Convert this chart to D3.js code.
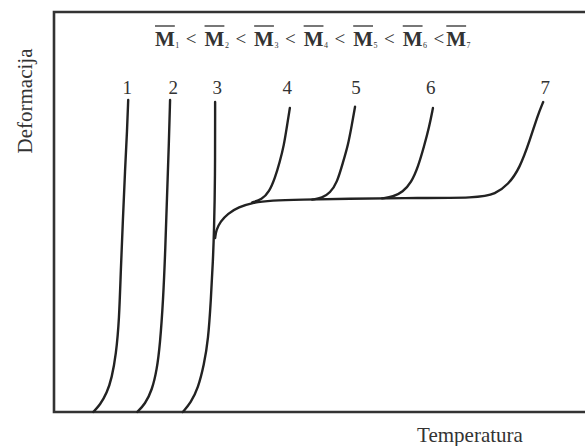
<!DOCTYPE html>
<html>
<head>
<meta charset="utf-8">
<script src="https://cdn.jsdelivr.net/npm/d3@7"></script>
<style>
  body { margin: 0; background: #fff; }
  svg { display: block; }
  text { font-family: "Liberation Serif", "DejaVu Serif", serif; fill: #333; }
</style>
</head>
<body>
<svg id="chart" width="585" height="446"></svg>
<script>
// Curves (temperature, deformation), both on a 0-100 scale
const curve1 = [[7.4,0],[8.7,1.8],[10,4.8],[10.9,8.5],[11.7,14.3],[12.3,23],[12.6,35.5],[13,48],[13.4,60.5],[13.8,70.5],[14,78]];
const curve2 = [[15.7,0],[17.2,2],[18.5,5.5],[19.4,10.5],[20,16.8],[20.6,28],[21,40.5],[21.3,53],[21.7,68],[21.9,78]];
const curve3 = [[24.3,0],[25.8,2.3],[27.2,6],[28.3,11.8],[29.1,18],[29.6,28],[30,38],[30.2,45.5],[30.4,58],[30.4,77.5]];
// plateau leaving curve 3 and ending as curve 7
const curve7 = [[30.4,43.5],[30.6,45.5],[31.4,47.6],[32.8,49.6],[34.8,51.2],[37.6,52.4],[41,52.9],[46.4,53.1],[55.8,53.3],[65.3,53.5],[80.4,53.5],[83.2,54.5],[85.7,56.8],[87.9,61],[89.8,68],[91.3,74.3],[92.3,77.5]];
const curve4 = [[37.4,52.4],[39.2,53.1],[40.6,55],[41.7,58.5],[42.6,62.5],[43.4,66.8],[43.9,71],[44.5,76]];
const curve5 = [[48.7,53.1],[50.6,53.5],[52.1,54.8],[53.4,57.3],[54.5,62.3],[55.5,66.8],[56.2,71.8],[56.8,76.3]];
const curve6 = [[61.9,53.4],[64,53.8],[65.8,55],[67.4,57.3],[68.7,61.3],[69.8,66.3],[70.8,71.3],[71.5,76]];

const curves = [curve1, curve2, curve3, curve4, curve5, curve6, curve7];
const curveLabels = ["1", "2", "3", "4", "5", "6", "7"];
const labelT = [13.8, 22.5, 30.8, 44, 57, 71.1, 92.7];
const labelD = 79.5;
const subscripts = ["1", "2", "3", "4", "5", "6", "7"];

const svg = d3.select("#chart");
const x = d3.scaleLinear().domain([0, 100]).range([54, 584]);
const y = d3.scaleLinear().domain([0, 100]).range([412, 12]);

// frame: left, top, bottom (right side runs off the picture)
svg.append("path")
  .attr("d", `M${x(100) + 5},${y(100)}H${x(0)}V${y(0)}H${x(100) + 5}`)
  .attr("fill", "none")
  .attr("stroke", "#333")
  .attr("stroke-width", 2.6);

const line = d3.line()
  .x(d => x(d[0]))
  .y(d => y(d[1]))
  .curve(d3.curveBasis);

svg.selectAll("path.curve")
  .data(curves)
  .join("path")
  .attr("class", "curve")
  .attr("d", line)
  .attr("fill", "none")
  .attr("stroke", "#222")
  .attr("stroke-width", 2.4)
  .attr("stroke-linecap", "round");

svg.selectAll("text.lbl")
  .data(curveLabels)
  .join("text")
  .attr("class", "lbl")
  .attr("x", (d, i) => x(labelT[i]))
  .attr("y", y(labelD))
  .attr("text-anchor", "middle")
  .attr("font-size", 19)
  .text(d => d);

// axis titles
svg.append("text")
  .attr("transform", `translate(32,101) rotate(-90)`)
  .attr("text-anchor", "middle")
  .attr("font-size", 21)
  .text("Deformacija");

svg.append("text")
  .attr("x", 470)
  .attr("y", 442)
  .attr("text-anchor", "middle")
  .attr("font-size", 21)
  .text("Temperatura");

// M1 < M2 < ... < M7 with bars over the M's
const eq = svg.append("g");
let cx = 155;
const baseY = 46;
subscripts.forEach((s, i) => {
  const m = eq.append("text")
    .attr("x", cx).attr("y", baseY)
    .attr("font-size", 21)
    .attr("font-weight", "bold")
    .text("M");
  const mw = m.node().getComputedTextLength();
  eq.append("line")
    .attr("x1", cx).attr("x2", cx + mw)
    .attr("y1", 26).attr("y2", 26)
    .attr("stroke", "#555").attr("stroke-width", 1.6);
  cx += mw;
  const sub = eq.append("text")
    .attr("x", cx + 0.5).attr("y", baseY + 2)
    .attr("font-size", 8)
    .text(s);
  cx += sub.node().getComputedTextLength() + 7;
  if (i < subscripts.length - 1) {
    const lt = eq.append("text")
      .attr("x", cx).attr("y", baseY - 1)
      .attr("font-size", 19)
      .text("<");
    cx += lt.node().getComputedTextLength() + (i === subscripts.length - 2 ? 2 : 8);
  }
});
</script>
</body>
</html>
